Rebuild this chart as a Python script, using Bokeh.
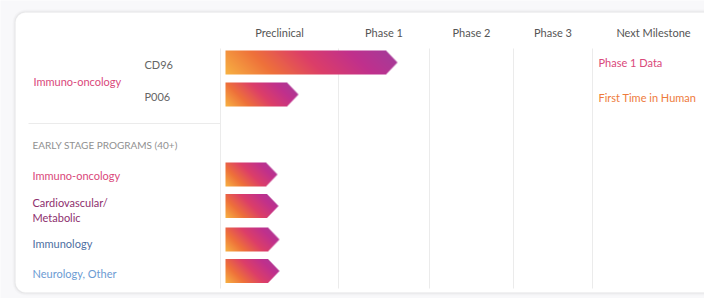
import numpy as np
from bokeh.plotting import figure
from bokeh.models import Range1d, BoxAnnotation
from bokeh.core.properties import value
from bokeh.embed import file_html
from bokeh.resources import INLINE

# ---------------- data ----------------
phases = ["Preclinical", "Phase 1", "Phase 2", "Phase 3", "Next Milestone"]
program_area = "Immuno-oncology"
programs = ["CD96", "P006"]
program_progress = [1.65, 0.66]          # in phase units (0 = start of Preclinical)
milestones = ["Phase 1 Data", "First Time in Human"]
early_title = "EARLY STAGE PROGRAMS (40+)"
early_areas = ["Immuno-oncology", "Cardiovascular/\nMetabolic", "Immunology", "Neurology, Other"]
early_progress = [0.48, 0.49, 0.50, 0.50]

# ---------------- layout (page pixel positions) ----------------
W, H = 704, 298
FONT = "Lato"
col_edges = [220, 338, 429, 513, 592, 714]     # column boundaries
bar_start = 225
bar_h = 24
tip_len = 11.5
program_rows = [62, 94]
early_rows = [174, 205.5, 239, 270.5]
early_label_y = [175, 209.5, 243, 273]
area_colors = ["#DA487B", "#8E2F6E", "#4E6FA2", "#6C9BD3"]


def Y(py):
    return H - py


def phase_x(p):
    i = int(np.floor(p))
    return col_edges[i] + (p - i) * (col_edges[i + 1] - col_edges[i])


p = figure(width=W, height=H, x_range=Range1d(0, W), y_range=Range1d(0, H),
           output_backend="svg", toolbar_location=None, min_border=0)
p.axis.visible = False
p.grid.visible = False
p.outline_line_color = None
p.background_fill_color = "#f8f8fa"
p.border_fill_color = "#f8f8fa"

# card with faint shadow
for g, a in [(3, 0.015), (2, 0.02), (1, 0.03)]:
    p.add_layout(BoxAnnotation(left=15 - g, right=760, top=Y(12 - g), bottom=Y(292 + g),
                               fill_color="#000000", fill_alpha=a, line_color=None,
                               border_radius=10 + g, level="underlay"))
p.add_layout(BoxAnnotation(left=15, right=760, top=Y(12), bottom=Y(292),
                           fill_color="white", fill_alpha=1, line_color="#eeeef0",
                           border_radius=10, level="underlay"))

# grid lines
p.segment(x0=col_edges[:5], x1=col_edges[:5], y0=[Y(48)] * 5, y1=[Y(288)] * 5,
          line_color="#ebebeb", line_width=1)
p.segment(x0=[28], x1=[220], y0=[Y(123)], y1=[Y(123)], line_color="#ebebeb", line_width=1)

# headers
centers = [(col_edges[i] + col_edges[i + 1]) / 2 for i in range(5)]
p.text(x=centers, y=[Y(32)] * 5, text=phases, text_align="center", text_baseline="middle",
       text_font=value(FONT), text_font_size="11px", text_color="#555555")

# gradient arrow bars
stops_t = [0.0, 0.25, 0.5, 0.75, 1.0]
stops_c = np.array([[247, 178, 66], [238, 112, 58], [220, 62, 104], [192, 48, 140], [160, 60, 155]],
                   dtype=float)


def arrow_image(width):
    w = int(round(width))
    h = bar_h
    cols = np.arange(w) + 0.5
    rows = np.arange(h) + 0.5
    U, V = np.meshgrid(cols, rows)       # V from bottom
    t = (U + V) / (w + h)
    rgb = np.stack([np.interp(t, stops_t, stops_c[:, k]) for k in range(3)], axis=-1)
    rect_w = w - tip_len
    limit = rect_w + tip_len * (1 - np.abs(V - h / 2) / (h / 2))
    alpha = np.clip(limit - U + 0.5, 0, 1)
    img = np.zeros((h, w, 4), dtype=np.uint8)
    img[..., :3] = np.round(rgb).astype(np.uint8)
    img[..., 3] = np.round(alpha * 255).astype(np.uint8)
    return img.view(np.uint32).reshape(h, w), w


all_progress = program_progress + early_progress
all_rows = program_rows + early_rows
imgs, xs, ys, dws, dhs = [], [], [], [], []
for prog, row in zip(all_progress, all_rows):
    tip = phase_x(prog)
    im, w = arrow_image(tip - bar_start)
    imgs.append(im)
    xs.append(bar_start)
    ys.append(Y(row + bar_h / 2))
    dws.append(w)
    dhs.append(bar_h)
p.image_rgba(image=imgs, x=xs, y=ys, dw=dws, dh=dhs)

# left labels
p.text(x=[33], y=[Y(81)], text=[program_area], text_align="left", text_baseline="middle",
       text_font=value(FONT), text_font_size="11px", text_color=area_colors[0])
p.text(x=[144, 144], y=[Y(64), Y(96)], text=programs, text_align="left", text_baseline="middle",
       text_font=value(FONT), text_font_size="11px", text_color="#666666")
p.text(x=[32], y=[Y(144)], text=[early_title], text_align="left", text_baseline="middle",
       text_font=value(FONT), text_font_size="10px", text_color="#909090")
p.text(x=[32] * 4, y=[Y(v) for v in early_label_y], text=early_areas, text_align="left",
       text_baseline="middle", text_font=value(FONT), text_font_size="11px",
       text_color=area_colors, text_line_height=1.15)

# milestones
p.text(x=[598, 598], y=[Y(62), Y(97)], text=milestones, text_align="left", text_baseline="middle",
       text_font=value(FONT), text_font_size="11px", text_color=["#DA487B", "#EE7B3C"])

open("out.html", "w").write(file_html(p, INLINE))
